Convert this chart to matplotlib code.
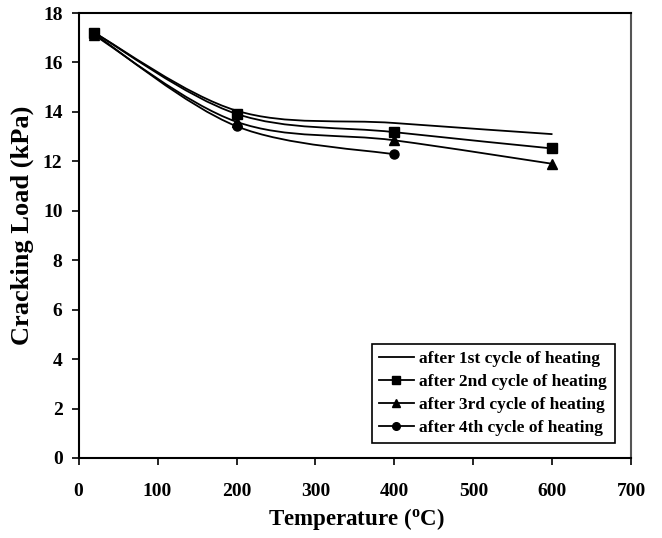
import numpy as np
import matplotlib
matplotlib.use("Agg")
import matplotlib.pyplot as plt
from matplotlib.path import Path
from matplotlib.patches import PathPatch
from matplotlib.lines import Line2D

plt.rcParams['font.family'] = ['Liberation Serif', 'DejaVu Serif']
plt.rcParams['font.weight'] = 'bold'
plt.rcParams['mathtext.fontset'] = 'custom'
plt.rcParams['mathtext.rm'] = 'Liberation Serif:bold'
plt.rcParams['mathtext.it'] = 'Liberation Serif:italic:bold'
plt.rcParams['mathtext.bf'] = 'Liberation Serif:bold'

temp_1 = [20, 200, 400, 600]
load_1 = [17.2, 14.05, 13.55, 13.1]
temp_2 = [20, 200, 400, 600]
load_2 = [17.2, 13.92, 13.18, 12.52]
temp_3 = [20, 200, 400, 600]
load_3 = [17.1, 13.6, 12.85, 11.9]
temp_4 = [20, 200, 400]
load_4 = [17.15, 13.42, 12.28]

labels = ["after 1st cycle of heating", "after 2nd cycle of heating",
          "after 3rd cycle of heating", "after 4th cycle of heating"]
markers = [None, 's', '^', 'o']


def smooth_path(x, y):
    # Excel-style smoothed line: cubic Bezier segments, tension 1/6
    p = np.column_stack([x, y]).astype(float)
    n = len(p)
    verts = [p[0]]
    codes = [Path.MOVETO]
    for i in range(n - 1):
        p0 = p[i - 1] if i > 0 else p[i]
        p3 = p[i + 2] if i + 2 < n else p[i + 1]
        c1 = p[i] + (p[i + 1] - p0) / 6
        c2 = p[i + 1] - (p3 - p[i]) / 6
        verts += [c1, c2, p[i + 1]]
        codes += [Path.CURVE4] * 3
    return Path(verts, codes)


fig = plt.figure(figsize=(6.62, 5.38), dpi=100)
ax = fig.add_axes([0.1186, 0.1487, 0.8353, 0.8271])

series = [(temp_1, load_1), (temp_2, load_2), (temp_3, load_3), (temp_4, load_4)]
handles = []
for (tx, ly), m, lab in zip(series, markers, labels):
    ax.add_patch(PathPatch(smooth_path(tx, ly), facecolor='none',
                           edgecolor='black', lw=1.3))
    if m is not None:
        ax.plot(tx, ly, linestyle='none', marker=m, color='black', markersize=6.5)
    handles.append(Line2D([], [], color='black', lw=1.3, marker=m, markersize=5.5))

ax.set_xlim(0, 700)
ax.set_ylim(0, 18)
ax.set_xticks(range(0, 701, 100))
ax.set_yticks(range(0, 19, 2))
ax.tick_params(direction='out', length=5, width=1.2, labelsize=14,
               top=False, right=False)
ax.tick_params(axis='x', pad=13)
ax.tick_params(axis='y', pad=6.5)
for lbl in ax.get_xticklabels() + ax.get_yticklabels():
    lbl.set_fontweight('bold')
for s in ax.spines.values():
    s.set_linewidth(1.5)
ax.spines['right'].set_color('#555555')

ax.set_xlabel('Temperature ($^{\\mathrm{o}}$C)', fontsize=16.5, fontweight='bold')
ax.xaxis.set_label_coords(0.502, -0.108)
ax.set_ylabel('Cracking Load (kPa)', fontsize=19, fontweight='bold')
ax.yaxis.set_label_coords(-0.08, 0.524)

leg = ax.legend(handles, labels, loc='lower left', bbox_to_anchor=(0.5307, 0.0337, 0.4403, 0.2),
                mode='expand', frameon=True, fancybox=False, framealpha=1,
                edgecolor='black', handlelength=2.0, handletextpad=0.3,
                borderpad=0.4, labelspacing=0.4, borderaxespad=0,
                prop={'weight': 'bold', 'size': 12.5})
leg.get_frame().set_linewidth(1.2)

fig.savefig('out.png', dpi=100)
